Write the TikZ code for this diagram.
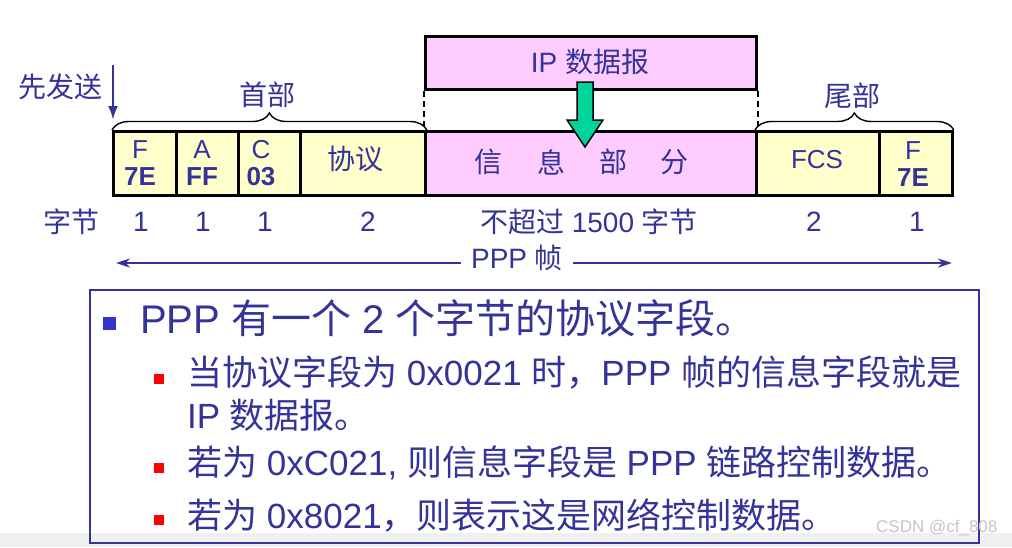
\documentclass[tikz,border=0pt]{standalone}
\usepackage{fontspec}
\setmainfont{Liberation Sans}
\newfontfamily\cjk{Noto Sans CJK SC}
\newcommand\zhs[1]{{\cjk #1}}
\usetikzlibrary{decorations.pathreplacing,arrows.meta}
\definecolor{tblue}{HTML}{333399}
\definecolor{yfill}{HTML}{FFFFCC}
\definecolor{pfill}{HTML}{FFCCFF}
\definecolor{garrow}{HTML}{00D49A}
\definecolor{bblue}{HTML}{3333CC}
\begin{document}
\begin{tikzpicture}[x=1pt,y=-1pt,
  lbl/.style={text=tblue, inner sep=0pt, font=\fontsize{28}{30}\selectfont},
  celltxt/.style={text=tblue, inner sep=0pt, align=center, font=\fontsize{26}{27}\selectfont},
  cellbox/.style={draw=black, line width=2.8pt, inner sep=0pt, anchor=north west, minimum height=64pt},
  bracestyle/.style={decorate, decoration={brace, amplitude=17pt}, line width=1.4pt},
  lvlone/.style={text=tblue, inner sep=0pt, anchor=west, font=\fontsize{40}{44}\selectfont},
  lvltwo/.style={text=tblue, inner sep=0pt, anchor=west, font=\fontsize{35}{40}\selectfont},
  bluebullet/.style={fill=bblue, minimum size=13pt, inner sep=0pt},
  redbullet/.style={fill=red, minimum size=10pt, inner sep=0pt},
  farrow/.style={draw=tblue, line width=2.5pt}
]
\useasboundingbox (0,0) rectangle (1012,547);
\fill[white] (0,0) rectangle (1012,547);

% shadow of frame
\fill[black] (115,133) rectangle (954,197);

% frame cells
\node[cellbox, fill=yfill, minimum width=63pt] (cF) at (112,130) {};
\node[cellbox, fill=yfill, minimum width=62pt] (cA) at (175,130) {};
\node[cellbox, fill=yfill, minimum width=62pt] (cC) at (237,130) {};
\node[cellbox, fill=yfill, minimum width=125pt] (cP) at (299,130) {};
\node[cellbox, fill=pfill, minimum width=331pt] (cI) at (424,130) {};
\node[cellbox, fill=yfill, minimum width=123pt] (cS) at (755,130) {};
\node[cellbox, fill=yfill, minimum width=73pt] (cE) at (878,130) {};

% cell texts
\node[celltxt] (tF) at (140,163) {F\\\textbf{7E}};
\node[celltxt] (tA) at (202,163) {A\\\textbf{FF}};
\node[celltxt] (tC) at (261,163) {C\\\textbf{03}};
\node[lbl] (tP) at (355,159) {\zhs{协议}};
\node[lbl] (i1) at (488,162) {\zhs{信}};
\node[lbl] (i2) at (551,162) {\zhs{息}};
\node[lbl] (i3) at (613,162) {\zhs{部}};
\node[lbl] (i4) at (674,162) {\zhs{分}};
\node[lbl, font=\fontsize{26}{27}\selectfont] (tS) at (817,160) {FCS};
\node[celltxt] (tE) at (913,164) {F\\\textbf{7E}};

% IP datagram box
\node[draw=black, line width=2.8pt, fill=pfill, anchor=north west, minimum width=331pt, minimum height=53pt, inner sep=0pt] (ip) at (424,35) {};
\node[lbl] (iptxt) at (590,62) {IP \zhs{数据报}};
\draw[dashed, line width=1.5pt, dash pattern=on 6pt off 4pt] (ip.south west) -- (cI.north west);
\draw[dashed, line width=1.5pt, dash pattern=on 6pt off 4pt] (ip.south east) -- (cI.north east);

% green arrow
\filldraw[fill=garrow, draw=black, line width=1.5pt]
  (577,82) -- (593,82) -- (593,120) -- (603,120) -- (585,147) -- (567,120) -- (577,120) -- cycle;

% braces
\draw[bracestyle] (cF.north west) -- (cP.north east);
\node[lbl] (hd) at (267,95) {\zhs{首部}};
\draw[bracestyle] (cS.north west) -- (cE.north east);
\node[lbl] (tl) at (852,96) {\zhs{尾部}};

% send first
\node[lbl] (send) at (60,87) {\zhs{先发送}};
\coordinate (sa) at (113,65);
\coordinate (sb) at (113,120);
\draw[farrow, -{Latex[length=14pt,width=10pt]}] (sa) -- (sb);

% byte counts
\node[lbl] (bz) at (71,222) {\zhs{字节}};
\node[lbl] (b1) at (141,222) {1};
\node[lbl] (b2) at (203,222) {1};
\node[lbl] (b3) at (265,222) {1};
\node[lbl] (b4) at (368,222) {2};
\node[lbl] (b5) at (589,222) {\zhs{不超过} 1500 \zhs{字节}};
\node[lbl] (b6) at (814,222) {2};
\node[lbl] (b7) at (917,222) {1};

% PPP frame arrow
\node[lbl, inner xsep=10pt] (ppp) at (517,258) {PPP \zhs{帧}};
\coordinate (pl) at (116,263);
\coordinate (pr) at (952,263);
\draw[farrow, {Stealth[length=14pt,width=9pt]}-] (pl) -- (pl -| ppp.west);
\draw[farrow, -{Stealth[length=14pt,width=9pt]}] (pr -| ppp.east) -- (pr);

% bottom grey band
\fill[gray!12] (0,533) rectangle (1012,547);

% note box
\node[draw=tblue, line width=1.5pt, anchor=north west, minimum width=889pt, minimum height=253pt, inner sep=0pt] (note) at (89,289) {};

\node[bluebullet] (bu1) at (109,323) {};
\node[lvlone] (l1) at (140,318) {PPP \zhs{有一个} 2 \zhs{个字节的协议字段。}};
\node[redbullet] (bu2) at (159,379) {};
\node[lvltwo] (l2) at (187,372) {\zhs{当协议字段为} 0x0021 \zhs{时，}PPP \zhs{帧的信息字段就是}};
\node[lvltwo] (l3) at (187,415) {IP \zhs{数据报。}};
\node[redbullet] (bu3) at (159,468) {};
\node[lvltwo] (l4) at (187,463) {\zhs{若为} 0xC021, \zhs{则信息字段是} PPP \zhs{链路控制数据。}};
\node[redbullet] (bu4) at (159,520) {};
\node[lvltwo] (l5) at (187,515) {\zhs{若为} 0x8021\zhs{，则表示这是网络控制数据。}};

\node[text=gray!45, inner sep=0pt, anchor=west, font=\fontsize{17}{18}\selectfont] (wm) at (876,528) {CSDN @cf\_808};
\end{tikzpicture}
\end{document}
